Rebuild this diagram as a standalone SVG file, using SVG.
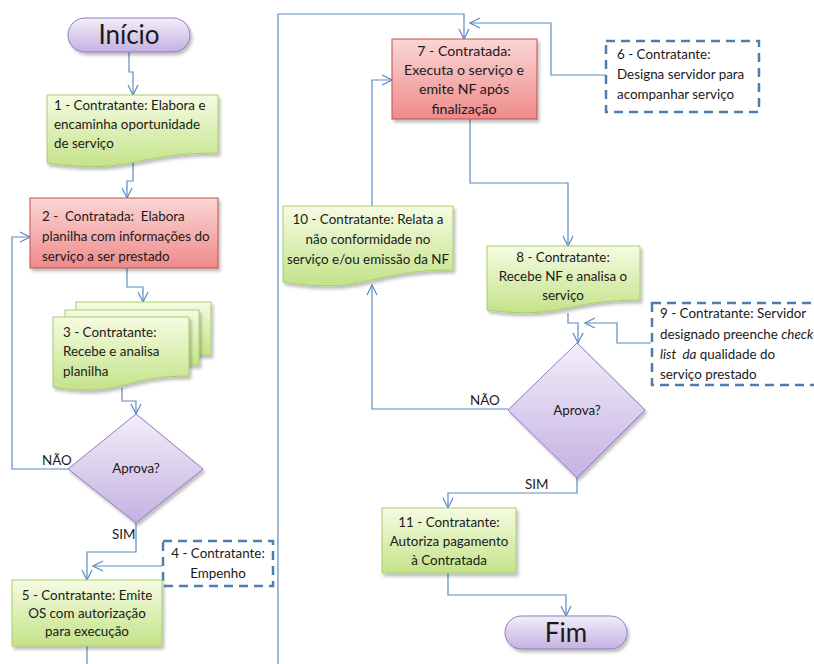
<svg xmlns="http://www.w3.org/2000/svg" width="814" height="664" viewBox="0 0 814 664">
<defs>
<linearGradient id="gGreen" x1="0" y1="0" x2="0" y2="1">
<stop offset="0" stop-color="#f6fbe2"/><stop offset="1" stop-color="#c3e389"/>
</linearGradient>
<linearGradient id="gRed" x1="0" y1="0" x2="0" y2="1">
<stop offset="0" stop-color="#fbd6d6"/><stop offset="1" stop-color="#ee8a8a"/>
</linearGradient>
<linearGradient id="gPurple" x1="0" y1="0" x2="0" y2="1">
<stop offset="0" stop-color="#f3eefa"/><stop offset="1" stop-color="#c4b1e1"/>
</linearGradient>
<filter id="sh" x="-10%" y="-10%" width="130%" height="130%">
<feDropShadow dx="2" dy="3" stdDeviation="1.5" flood-color="#000" flood-opacity="0.25"/>
</filter>
<marker id="arr" viewBox="0 0 12 12" refX="11" refY="6" markerWidth="12" markerHeight="12" markerUnits="userSpaceOnUse" orient="auto">
<path d="M1,1 L11,6 L1,11" fill="none" stroke="#5b8cc2" stroke-width="1.2"/>
</marker>
</defs>
<style>
.green{fill:url(#gGreen);stroke:#a7cd6f;stroke-width:1;filter:url(#sh)}
.red{fill:url(#gRed);stroke:#c0504d;stroke-width:1;filter:url(#sh)}
.purple{fill:url(#gPurple);stroke:#8f7bbd;stroke-width:1;filter:url(#sh)}
.dash{fill:#fff;stroke:#4e7eae;stroke-width:2.5;stroke-dasharray:9 6}
.con{fill:none;stroke:#5b8cc2;stroke-width:1.2}
.t{font-family:Lato,"Liberation Sans",sans-serif;font-size:13.4px;fill:#1a1a1a}
.c{text-anchor:middle}
.l{font-size:14.2px}
.big{font-family:Lato,"Liberation Sans",sans-serif;font-size:26px;fill:#1a1a1a;text-anchor:middle}
</style>
<rect width="814" height="664" fill="#fff"/>

<g id="connectors">
<polyline class="con" points="129,52 129,72 133,72 133,95" marker-end="url(#arr)"/>
<polyline class="con" points="133,162 133,181 127,181 127,198" marker-end="url(#arr)"/>
<polyline class="con" points="127,268 127,287 143,287 143,302" marker-end="url(#arr)"/>
<polyline class="con" points="122,388 122,401 136,401 136,414" marker-end="url(#arr)"/>
<polyline class="con" points="68,469 12,469 12,237 30,237" marker-end="url(#arr)"/>
<polyline class="con" points="136,523 136,552 87,552 87,580" marker-end="url(#arr)"/>
<polyline class="con" points="162,566 93,566" marker-end="url(#arr)"/>
<polyline class="con" points="87,646 87,664"/>
<polyline class="con" points="278,664 278,14 464,14 464,39" marker-end="url(#arr)"/>
<polyline class="con" points="606,75 551,75 551,23 470,23" marker-end="url(#arr)"/>
<polyline class="con" points="470,119 470,183 568,183 568,246" marker-end="url(#arr)"/>
<polyline class="con" points="372,206 372,80 392,80" marker-end="url(#arr)"/>
<polyline class="con" points="508,409 372,409 372,285" marker-end="url(#arr)"/>
<polyline class="con" points="568,313 568,323 578,323 578,343" marker-end="url(#arr)"/>
<polyline class="con" points="651,343 617,343 617,323 585,323" marker-end="url(#arr)"/>
<polyline class="con" points="577,478 577,493 448,493 448,508" marker-end="url(#arr)"/>
<polyline class="con" points="448,573 448,595 566,595 566,616" marker-end="url(#arr)"/>
</g>

<g id="inicio">
<rect class="purple" x="68" y="18" width="122" height="34" rx="17"/>
<text class="big" x="129" y="44">Início</text>
</g>

<g id="n1">
<path class="green" d="M47,95 H218 V153 C133,153 133,175 47,163 Z"/>
<text class="t" x="54" y="110">1 - Contratante: Elabora e</text>
<text class="t" x="54" y="129">encaminha oportunidade</text>
<text class="t" x="54" y="148">de serviço</text>
</g>

<g id="n2">
<rect class="red" x="30" y="198" width="188" height="70"/>
<text class="t" x="42" y="221" xml:space="preserve">2 -  Contratada:  Elabora</text>
<text class="t" x="42" y="241">planilha com informações do</text>
<text class="t" x="42" y="261">serviço a ser prestado</text>
</g>

<g id="n3">
<rect class="green" x="76" y="302" width="135" height="53"/>
<rect class="green" x="65" y="310" width="134" height="55"/>
<path class="green" d="M53,317 H189 V376 C121,376 121,398 53,387 Z"/>
<text class="t" x="63" y="337">3 - Contratante:</text>
<text class="t" x="63" y="356">Recebe e analisa</text>
<text class="t" x="63" y="376">planilha</text>
</g>

<g id="d1">
<polygon class="purple" points="136,414 203,469 136,523 68,469"/>
<text class="t c" x="136" y="473">Aprova?</text>
<text class="t" x="42" y="465">NÃO</text>
<text class="t" x="112" y="539">SIM</text>
</g>

<g id="n4">
<rect class="dash" x="163" y="541" width="110" height="45"/>
<text class="t c" x="218" y="558">4 - Contratante:</text>
<text class="t c" x="218" y="578">Empenho</text>
</g>

<g id="n5">
<rect class="green" x="12" y="580" width="150" height="66"/>
<text class="t c" x="87" y="600">5 - Contratante: Emite</text>
<text class="t c" x="87" y="618">OS com autorização</text>
<text class="t c" x="87" y="636">para execução</text>
</g>

<g id="n7">
<rect class="red" x="392" y="39" width="145" height="80"/>
<text class="t c l" x="464" y="56">7 - Contratada:</text>
<text class="t c l" x="464" y="75">Executa o serviço e</text>
<text class="t c l" x="464" y="94">emite NF após</text>
<text class="t c l" x="464" y="114">finalização</text>
</g>

<g id="n6">
<rect class="dash" x="606" y="41" width="153" height="71"/>
<text class="t" x="617" y="59">6 - Contratante:</text>
<text class="t" x="617" y="79">Designa servidor para</text>
<text class="t" x="617" y="99">acompanhar serviço</text>
</g>

<g id="n10">
<path class="green" d="M283,206 H453 V270 C368,270 368,295 283,282 Z"/>
<text class="t c" x="368" y="224">10 - Contratante: Relata a</text>
<text class="t c" x="368" y="244">não conformidade no</text>
<text class="t c" x="368" y="264">serviço e/ou emissão da NF</text>
</g>

<g id="n8">
<path class="green" d="M487,246 H640 V300 C563,300 563,320 487,310 Z"/>
<text class="t c" x="563" y="262">8 - Contratante:</text>
<text class="t c" x="563" y="281">Recebe NF e analisa o</text>
<text class="t c" x="563" y="300">serviço</text>
</g>

<g id="n9">
<rect class="dash" x="652" y="303" width="170" height="82"/>
<text class="t" x="660" y="318">9 - Contratante: Servidor</text>
<text class="t" x="660" y="339">designado preenche <tspan font-style="italic">check</tspan></text>
<text class="t" x="660" y="359" xml:space="preserve"><tspan font-style="italic">list  da</tspan> qualidade do</text>
<text class="t" x="660" y="379">serviço prestado</text>
</g>

<g id="d2">
<polygon class="purple" points="577,343 645,410 577,478 508,410"/>
<text class="t c" x="577" y="415">Aprova?</text>
<text class="t" x="470" y="405">NÃO</text>
<text class="t" x="525" y="489">SIM</text>
</g>

<g id="n11">
<rect class="green" x="382" y="508" width="134" height="65"/>
<text class="t c" x="449" y="527">11 - Contratante:</text>
<text class="t c" x="449" y="546">Autoriza pagamento</text>
<text class="t c" x="449" y="565">à Contratada</text>
</g>

<g id="fim">
<rect class="purple" x="505" y="616" width="122" height="33" rx="16.5"/>
<text class="big" x="566" y="642">Fim</text>
</g>
</svg>
